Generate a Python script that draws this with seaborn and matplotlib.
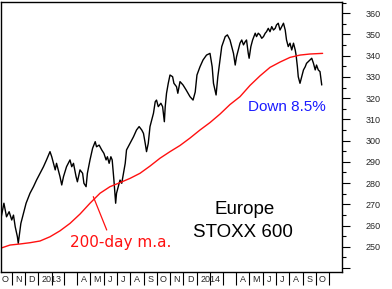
import numpy as np
import pandas as pd
import matplotlib
matplotlib.use("Agg")
import matplotlib.pyplot as plt
import matplotlib.dates as mdates
from matplotlib.ticker import FixedLocator, FixedFormatter, MultipleLocator, NullFormatter
import seaborn as sns

# ---------------- data ----------------
START = "2012-10-05"          # day 0 of the day offsets below

price_day = [0, 9, 15, 21, 27, 31, 35, 40, 42, 48,
             54, 60, 69, 77, 84, 92, 100, 107, 115, 119,
             123, 127, 130, 134, 138, 142, 146, 153, 161, 165,
             169, 175, 178, 184, 190, 193, 198, 201, 207, 213,
             219, 222, 228, 234, 239, 244, 247, 251, 255, 258,
             262, 265, 266, 268, 272, 276, 280, 284, 288, 291,
             299, 307, 314, 320, 326, 330, 334, 337, 341, 345,
             349, 353, 357, 360, 364, 370, 374, 378, 380, 383,
             387, 391, 397, 400, 406, 409, 414, 421, 428, 437,
             444, 449, 453, 460, 467, 475, 483, 488, 491, 497,
             501, 506, 510, 514, 518, 523, 529, 533, 537, 541,
             544, 548, 552, 556, 560, 564, 567, 571, 573, 577,
             581, 587, 590, 594, 598, 602, 606, 610, 613, 617,
             621, 625, 629, 633, 636, 640, 644, 648, 652, 656,
             659, 663, 667, 671, 675, 679, 681, 684, 686, 690,
             694, 698, 702, 705, 709, 713, 717, 721, 725, 728,
             732, 736, 740]
price_value = [261.0, 270.5, 264.1, 266.5, 262.6, 264.9, 259.4, 254.7, 251.6, 261.0,
               265.7, 270.5, 275.2, 278.3, 281.4, 284.6, 287.7, 290.9, 294.8, 292.4,
               289.3, 286.2, 289.3, 286.2, 283.0, 279.1, 283.0, 287.7, 290.9, 287.7,
               289.3, 283.0, 280.6, 286.2, 284.6, 279.9, 278.3, 284.6, 290.9, 296.4,
               299.5, 297.1, 297.9, 295.6, 294.0, 290.9, 292.4, 289.3, 292.4, 290.9,
               281.4, 273.6, 270.5, 275.2, 278.3, 281.4, 279.9, 284.6, 289.3, 295.6,
               298.7, 301.8, 305.0, 306.6, 305.0, 303.4, 298.7, 294.8, 298.7, 306.6,
               309.7, 312.9, 318.3, 319.1, 316.0, 317.6, 316.0, 308.9, 316.0, 322.3,
               327.0, 330.9, 330.1, 327.0, 325.4, 322.3, 327.8, 326.2, 323.9, 320.7,
               319.1, 322.9, 330.9, 334.8, 338.0, 340.3, 341.1, 334.8, 327.0, 321.5,
               330.1, 338.0, 344.3, 346.6, 349.0, 349.8, 347.4, 344.3, 341.1, 335.6,
               339.5, 342.7, 345.9, 347.4, 345.1, 346.6, 347.4, 341.1, 338.8, 344.3,
               347.4, 350.6, 349.0, 350.6, 349.8, 348.2, 349.0, 350.6, 351.3, 352.9,
               351.3, 353.7, 352.1, 352.9, 354.5, 355.3, 352.1, 353.7, 355.3, 352.1,
               347.4, 344.3, 345.9, 342.7, 345.9, 342.7, 340.3, 334.8, 330.1, 327.0,
               330.1, 333.3, 334.8, 336.4, 337.2, 338.0, 338.8, 336.4, 333.3, 335.6,
               333.3, 332.5, 326.2]

ma_day = [0, 23, 46, 69, 92, 115, 138, 161, 184, 207, 230, 253, 276, 299, 322, 345,
          368, 391, 414, 437, 460, 483, 506, 529, 552, 575, 598, 621, 644, 667, 690,
          713, 742]
ma_value = [249.2, 250.8, 251.3, 251.9, 252.7, 254.7, 257.5, 261.0, 265.4, 270.5,
            275.2, 278.3, 280.2, 282.2, 284.6, 288.0, 291.7, 294.8, 297.7, 301.2,
            305.0, 308.5, 312.5, 317.0, 320.7, 326.0, 330.5, 334.5, 337.0, 339.2,
            340.3, 340.8, 341.1]

ytick_values = [240, 250, 260, 270, 280, 290, 300, 310, 320, 330, 340, 350, 360]
ytick_labels = ["", "250", "260", "270", "280", "290", "300", "310", "320",
                "330", "340", "350", "360"]

first_month = "2012-10-01"
month_labels = ["O", "N", "D", "", "", "", "A", "M", "J", "J", "A", "S",
                "O", "N", "D", "", "", "", "A", "M", "J", "J", "A", "S", "O"]
year_labels = ["2013", "2014"]
year_label_dates = ["2013-02-01", "2014-02-01"]

# ---------------- frame ----------------
W, H = 392, 289
fig = plt.figure(figsize=(W / 100, H / 100), dpi=100)
sns.set_style("white")
plt.rcParams["font.family"] = ["Liberation Sans", "DejaVu Sans"]

ax_l, ax_r, ax_t, ax_b = 1, 342, 2, 272
ax = fig.add_axes([ax_l / W, 1 - ax_b / H, (ax_r - ax_l) / W, (ax_b - ax_t) / H])

start = pd.Timestamp(START)
df_price = pd.DataFrame({"date": start + pd.to_timedelta(price_day, unit="D"),
                         "value": price_value})
df_ma = pd.DataFrame({"date": start + pd.to_timedelta(ma_day, unit="D"),
                      "value": ma_value})

sns.lineplot(data=df_price, x="date", y="value", color="black", linewidth=1.0, ax=ax)
sns.lineplot(data=df_ma, x="date", y="value", color="#ff1010", linewidth=1.0, ax=ax)

ax.set_xlim(start + pd.Timedelta(days=2.3), start + pd.Timedelta(days=786.6))
ax.set_ylim(238.1, 365.3)
ax.set_xlabel("")
ax.set_ylabel("")

for s in ax.spines.values():
    s.set_visible(True)
    s.set_color("black")
    s.set_linewidth(1.0)

# y axis on the right
ax.yaxis.tick_right()
ax.yaxis.set_major_locator(FixedLocator(ytick_values))
ax.yaxis.set_major_formatter(FixedFormatter(ytick_labels))
ax.yaxis.set_minor_locator(MultipleLocator(5))
ax.tick_params(axis="y", which="major", direction="out", length=5.8, width=0.8,
               color="black", pad=11, labelsize=6.5, right=True, left=False)
ax.tick_params(axis="y", which="minor", direction="out", length=2.8, width=0.8,
               color="black", right=True, left=False)

# x axis: month cells
months = pd.date_range(first_month, periods=len(month_labels), freq="MS")
bounds = [mdates.date2num(m) for m in months[1:]] + \
         [mdates.date2num(months[-1] + pd.offsets.MonthBegin(1))]
ax.xaxis.set_major_locator(FixedLocator(bounds))
ax.xaxis.set_major_formatter(NullFormatter())
lab_pos = [mdates.date2num(m + pd.Timedelta(days=15)) for m in months]
lab_txt = list(month_labels)
lab_pos += [mdates.date2num(pd.Timestamp(d)) for d in year_label_dates]
lab_txt += year_labels
ax.xaxis.remove_overlapping_locs = False
ax.xaxis.set_minor_locator(FixedLocator(lab_pos))
ax.xaxis.set_minor_formatter(FixedFormatter(lab_txt))
ax.tick_params(axis="x", which="major", direction="out", length=9.4, width=0.8,
               color="black", bottom=True, top=False)
ax.tick_params(axis="x", which="minor", length=0, pad=2.2, labelsize=6.5,
               bottom=True, top=False)

# annotations
ax.text(0.839, 0.596, "Down 8.5%", transform=ax.transAxes, ha="center",
        va="baseline", color="#1a1aff", fontsize=11)
ax.text(0.352, 0.0915, "200-day m.a.", transform=ax.transAxes, ha="center",
        va="baseline", color="#ff1010", fontsize=11, family=["DejaVu Sans"])
ax.plot([0.2707, 0.310], [0.279, 0.1556], transform=ax.transAxes,
        color="#ff1010", linewidth=0.9)
ax.text(0.713, 0.2148, "Europe", transform=ax.transAxes, ha="center",
        va="baseline", color="black", fontsize=13.5)
ax.text(0.710, 0.1285, "STOXX 600", transform=ax.transAxes, ha="center",
        va="baseline", color="black", fontsize=13.5)

fig.savefig("out.png", dpi=100, facecolor="white")
